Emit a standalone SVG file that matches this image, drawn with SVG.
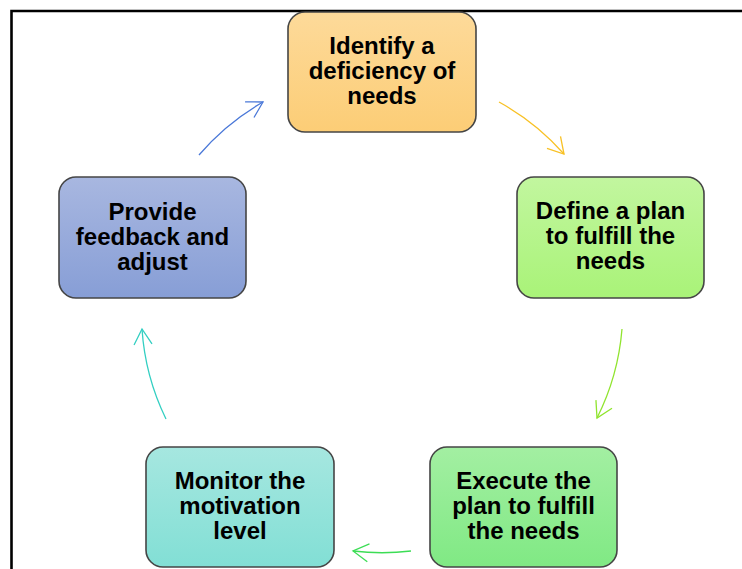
<svg xmlns="http://www.w3.org/2000/svg" width="742" height="569" viewBox="0 0 742 569">
<defs>
<linearGradient id="gOrange" x1="0" y1="0" x2="0" y2="1"><stop offset="0" stop-color="#FDDA9A"/><stop offset="1" stop-color="#FCCD76"/></linearGradient>
<linearGradient id="gLime" x1="0" y1="0" x2="0" y2="1"><stop offset="0" stop-color="#C2F69F"/><stop offset="1" stop-color="#A9F378"/></linearGradient>
<linearGradient id="gGreen" x1="0" y1="0" x2="0" y2="1"><stop offset="0" stop-color="#A3EFA2"/><stop offset="1" stop-color="#80E984"/></linearGradient>
<linearGradient id="gTeal" x1="0" y1="0" x2="0" y2="1"><stop offset="0" stop-color="#A6E7E0"/><stop offset="1" stop-color="#82DFD5"/></linearGradient>
<linearGradient id="gBlue" x1="0" y1="0" x2="0" y2="1"><stop offset="0" stop-color="#A8B7E0"/><stop offset="1" stop-color="#879ED6"/></linearGradient>
<marker id="mOrange" markerUnits="userSpaceOnUse" markerWidth="40" markerHeight="40" refX="0" refY="0" viewBox="-20 -20 40 40" orient="auto"><path d="M-15.5,-9 L0,0 L-15.5,9" fill="none" stroke="#F8C125" stroke-width="1.3"/></marker>
<marker id="mLime" markerUnits="userSpaceOnUse" markerWidth="40" markerHeight="40" refX="0" refY="0" viewBox="-20 -20 40 40" orient="auto"><path d="M-15.5,-9 L0,0 L-15.5,9" fill="none" stroke="#90E42E" stroke-width="1.3"/></marker>
<marker id="mGreen" markerUnits="userSpaceOnUse" markerWidth="40" markerHeight="40" refX="0" refY="0" viewBox="-20 -20 40 40" orient="auto"><path d="M-15.5,-9 L0,0 L-15.5,9" fill="none" stroke="#3CDD55" stroke-width="1.3"/></marker>
<marker id="mTeal" markerUnits="userSpaceOnUse" markerWidth="40" markerHeight="40" refX="0" refY="0" viewBox="-20 -20 40 40" orient="auto"><path d="M-15.5,-9 L0,0 L-15.5,9" fill="none" stroke="#33CFC2" stroke-width="1.3"/></marker>
<marker id="mBlue" markerUnits="userSpaceOnUse" markerWidth="40" markerHeight="40" refX="0" refY="0" viewBox="-20 -20 40 40" orient="auto"><path d="M-15.5,-9 L0,0 L-15.5,9" fill="none" stroke="#4A78D8" stroke-width="1.3"/></marker>
</defs>
<style>
.box{stroke:#454545;stroke-width:1.6}
.lbl{font-family:"Liberation Sans",Arial,sans-serif;font-weight:bold;font-size:24px;fill:#000;text-anchor:middle}
.arc{fill:none;stroke-width:1.3}
</style>
<rect x="0" y="0" width="742" height="569" fill="#fff"/>
<path d="M11.5,569 L11.5,11 L742,11" fill="none" stroke="#000" stroke-width="2.6"/>
<g id="connectors">
<path class="arc" stroke="#F8C125" marker-end="url(#mOrange)" d="M499,102 A241,241 0 0 1 564,154"/>
<path class="arc" stroke="#90E42E" marker-end="url(#mLime)" d="M622,329 A241,241 0 0 1 597,418"/>
<path class="arc" stroke="#3CDD55" marker-end="url(#mGreen)" d="M411,551 A241,241 0 0 1 353,551"/>
<path class="arc" stroke="#33CFC2" marker-end="url(#mTeal)" d="M166,419 A241,241 0 0 1 142,329"/>
<path class="arc" stroke="#4A78D8" marker-end="url(#mBlue)" d="M199,155 A241,241 0 0 1 263,102"/>
</g>
<g id="n1">
<rect class="box" x="288" y="12" width="188" height="120" rx="17" fill="url(#gOrange)"/>
<text class="lbl" x="382" y="54">Identify a</text>
<text class="lbl" x="382" y="79">deficiency of</text>
<text class="lbl" x="382" y="104">needs</text>
</g>
<g id="n2">
<rect class="box" x="517" y="177" width="187" height="121" rx="17" fill="url(#gLime)"/>
<text class="lbl" x="610.5" y="219">Define a plan</text>
<text class="lbl" x="610.5" y="244">to fulfill the</text>
<text class="lbl" x="610.5" y="269">needs</text>
</g>
<g id="n3">
<rect class="box" x="430" y="447" width="187" height="120" rx="17" fill="url(#gGreen)"/>
<text class="lbl" x="523.5" y="489">Execute the</text>
<text class="lbl" x="523.5" y="514">plan to fulfill</text>
<text class="lbl" x="523.5" y="539">the needs</text>
</g>
<g id="n4">
<rect class="box" x="146" y="447" width="188" height="120" rx="17" fill="url(#gTeal)"/>
<text class="lbl" x="240" y="489">Monitor the</text>
<text class="lbl" x="240" y="514">motivation</text>
<text class="lbl" x="240" y="539">level</text>
</g>
<g id="n5">
<rect class="box" x="59" y="177" width="187" height="121" rx="17" fill="url(#gBlue)"/>
<text class="lbl" x="152.5" y="220">Provide</text>
<text class="lbl" x="152.5" y="245">feedback and</text>
<text class="lbl" x="152.5" y="270">adjust</text>
</g>
</svg>
